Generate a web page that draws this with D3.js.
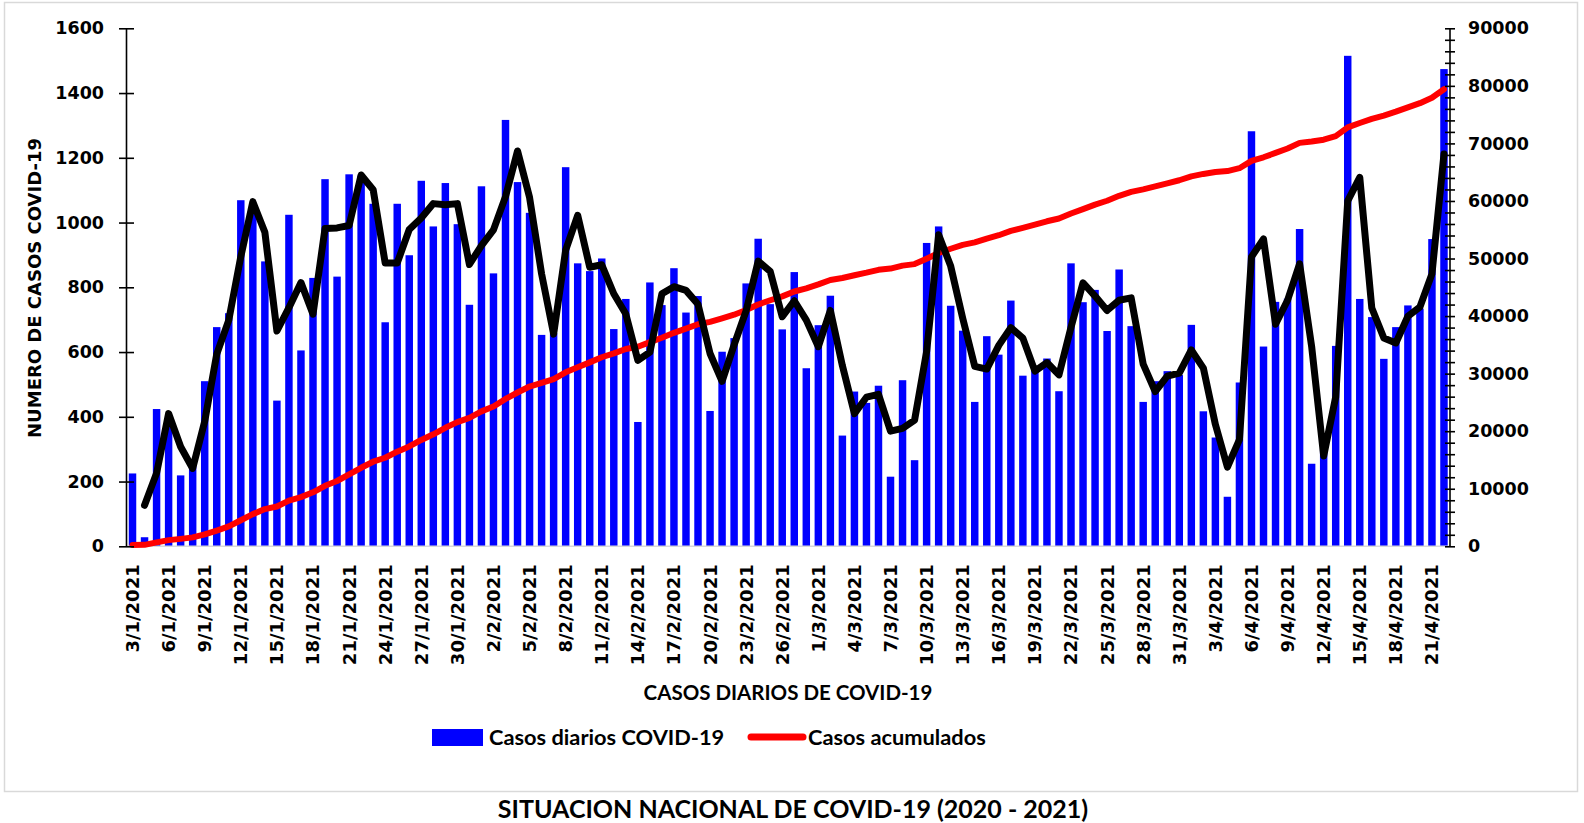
<!DOCTYPE html>
<html>
<head>
<meta charset="utf-8">
<script src="https://cdn.jsdelivr.net/npm/d3@7"></script>
<style>
  body { margin: 0; background: #fff; }
  svg { display: block; }
  .tick-label { font-family: 'DejaVu Sans', sans-serif; font-weight: bold; }
  .cal { font-family: Lato, 'Open Sans', sans-serif; font-weight: bold; }
</style>
</head>
<body>
<svg id="chart" width="1584" height="823"></svg>
<script>
// categories: one bar per day, 3/1/2021 .. 22/4/2021
const firstDay = new Date(2021, 0, 3)
const dayAfterLast = new Date(2021, 3, 23)

// daily cases
const dailyCases = [
  225, 28, 424, 396, 219, 262, 510, 677, 720, 1069,
  1060, 880, 450, 1024, 605, 829, 1134, 833, 1149, 1145,
  1058, 692, 1058, 899, 1129, 988, 1122, 995, 746, 1112,
  843, 1317, 1125, 1030, 653, 658, 1171, 874, 850, 889,
  671, 764, 384, 815, 745, 859, 722, 773, 418, 601,
  643, 812, 950, 748, 670, 847, 550, 683, 774, 342,
  478, 443, 496, 215, 513, 266, 937, 988, 743, 666,
  446, 649, 592, 759, 527, 555, 580, 479, 874, 754,
  792, 665, 855, 680, 446, 510, 541, 529, 684, 417,
  336, 153, 506, 1282, 617, 755, 765, 980, 255, 303,
  619, 1515, 764, 708, 579, 677, 744, 734, 949, 1474
]

const leftTicks = [0, 200, 400, 600, 800, 1000, 1200, 1400, 1600]
const rightTicks = [0, 10000, 20000, 30000, 40000, 50000, 60000, 70000, 80000, 90000]
const rightMinorStep = 2000
const seriesNames = ['Casos diarios COVID-19', 'Casos acumulados']
const yTitle = 'NUMERO DE CASOS COVID-19'
const xTitle = 'CASOS DIARIOS DE COVID-19'
const chartTitle = 'SITUACION NACIONAL DE COVID-19 (2020 - 2021)'

const svg = d3.select('#chart')
const blue = '#0000ff'
const red = '#ff0000'

const plotLeft = 126.5, plotRight = 1450, plotTop = 28.3, plotBottom = 546.3

const dayFmt = d3.timeFormat('%-d/%-m/%Y')
const days = d3.timeDay.range(firstDay, dayAfterLast).map(dayFmt)
const data = days.map((d, i) => ({ day: d, cases: dailyCases[i] }))

// running total (red line) and the 2-day moving average trendline (black)
const totals = Array.from(d3.cumsum(dailyCases))
const trend = dailyCases.map((v, i) => i === 0 ? null : (v + dailyCases[i - 1]) / 2)

const x = d3.scaleBand()
  .domain(days)
  .range([plotLeft, plotRight])
  .paddingInner(0.38)
  .paddingOuter(0.19)

const yLeft = d3.scaleLinear().domain([0, 1600]).range([plotBottom, plotTop])
const yRight = d3.scaleLinear().domain([0, 90000]).range([plotBottom, plotTop])

// outer frame of the chart
svg.append('rect')
  .attr('x', 4.5).attr('y', 2.5)
  .attr('width', 1573).attr('height', 789)
  .attr('fill', 'none')
  .attr('stroke', '#d9d9d9')
  .attr('stroke-width', 1.5)

// bars
svg.append('g')
  .selectAll('rect')
  .data(data)
  .enter()
  .append('rect')
    .attr('x', d => x(d.day))
    .attr('width', x.bandwidth())
    .attr('y', d => yLeft(d.cases))
    .attr('height', d => yLeft(0) - yLeft(d.cases))
    .attr('fill', blue)

// category baseline
svg.append('line')
  .attr('x1', plotLeft).attr('x2', plotRight)
  .attr('y1', plotBottom).attr('y2', plotBottom)
  .attr('stroke', '#d9d9d9')
  .attr('stroke-width', 1.5)

const cx = d => x(d) + x.bandwidth() / 2

// cumulative line
svg.append('path')
  .datum(totals)
  .attr('fill', 'none')
  .attr('stroke', red)
  .attr('stroke-width', 6)
  .attr('stroke-linejoin', 'round')
  .attr('stroke-linecap', 'round')
  .attr('d', d3.line()
    .x((d, i) => cx(days[i]))
    .y(d => yRight(d)))

// moving average trendline
svg.append('path')
  .datum(trend)
  .attr('fill', 'none')
  .attr('stroke', '#000')
  .attr('stroke-width', 7)
  .attr('stroke-linejoin', 'round')
  .attr('stroke-linecap', 'round')
  .attr('d', d3.line()
    .defined(d => d !== null)
    .x((d, i) => cx(days[i]))
    .y(d => yLeft(d)))

// left axis
const leftAxis = svg.append('g')
  .attr('transform', `translate(${plotLeft},0)`)
  .call(d3.axisLeft(yLeft)
    .tickValues(leftTicks)
    .tickFormat(d3.format('d'))
    .tickSize(7.5).tickPadding(15))
leftAxis.selectAll('.tick line').attr('x1', 7.5)

// right axis, a tick every 2000, labels every 10000
const rightAxis = svg.append('g')
  .attr('transform', `translate(${plotRight},0)`)
  .call(d3.axisRight(yRight)
    .tickValues(d3.range(0, 90001, rightMinorStep))
    .tickFormat(d => rightTicks.includes(d) ? d : '')
    .tickSize(5).tickPadding(13))
rightAxis.selectAll('.tick line').attr('x1', -5)

leftAxis.select('.domain').attr('d', `M0,${plotTop}V${plotBottom}`)
rightAxis.select('.domain').attr('d', `M0,${plotTop}V${plotBottom}`)
svg.selectAll('.domain')
  .attr('stroke', '#000')
  .attr('stroke-width', 1.6)
svg.selectAll('.tick line').attr('stroke', '#000').attr('stroke-width', 1.6)
svg.selectAll('.tick text')
  .attr('class', 'tick-label')
  .attr('fill', '#000')
  .style('font-size', '17.5px')

// date labels, every third day
const xAxis = svg.append('g')
  .attr('transform', `translate(0,${plotBottom})`)
  .call(d3.axisBottom(x).tickValues(days.filter((d, i) => i % 3 === 0)).tickSize(0))
xAxis.select('.domain').remove()
xAxis.selectAll('.tick text')
  .attr('class', 'tick-label')
  .attr('fill', '#000')
  .style('font-size', '18px')
  .attr('text-anchor', 'end')
  .attr('transform', 'rotate(-90)')
  .attr('x', -18)
  .attr('y', 0)
  .attr('dy', '0.36em')

// axis titles
svg.append('text')
  .attr('class', 'tick-label')
  .attr('transform', 'translate(35,288) rotate(-90)')
  .attr('text-anchor', 'middle')
  .attr('dy', '0.36em')
  .style('font-size', '18px')
  .text(yTitle)

svg.append('text')
  .attr('class', 'cal')
  .attr('x', 788).attr('y', 693)
  .attr('text-anchor', 'middle')
  .attr('dy', '0.36em')
  .style('font-size', '20.5px')
  .text(xTitle)

// legend
const legend = svg.append('g').attr('class', 'cal').style('font-size', '21.8px')
legend.append('rect')
  .attr('x', 432).attr('y', 729)
  .attr('width', 51).attr('height', 17)
  .attr('fill', blue)
legend.append('text')
  .attr('x', 489).attr('y', 737).attr('dy', '0.36em')
  .text(seriesNames[0])
legend.append('line')
  .attr('x1', 751).attr('x2', 803)
  .attr('y1', 737).attr('y2', 737)
  .attr('stroke', red).attr('stroke-width', 7).attr('stroke-linecap', 'round')
legend.append('text')
  .attr('x', 808).attr('y', 737).attr('dy', '0.36em')
  .text(seriesNames[1])

// title below the frame
svg.append('text')
  .attr('class', 'cal')
  .attr('x', 793).attr('y', 809)
  .attr('text-anchor', 'middle')
  .attr('dy', '0.36em')
  .style('font-size', '25px')
  .text(chartTitle)
</script>
</body>
</html>
